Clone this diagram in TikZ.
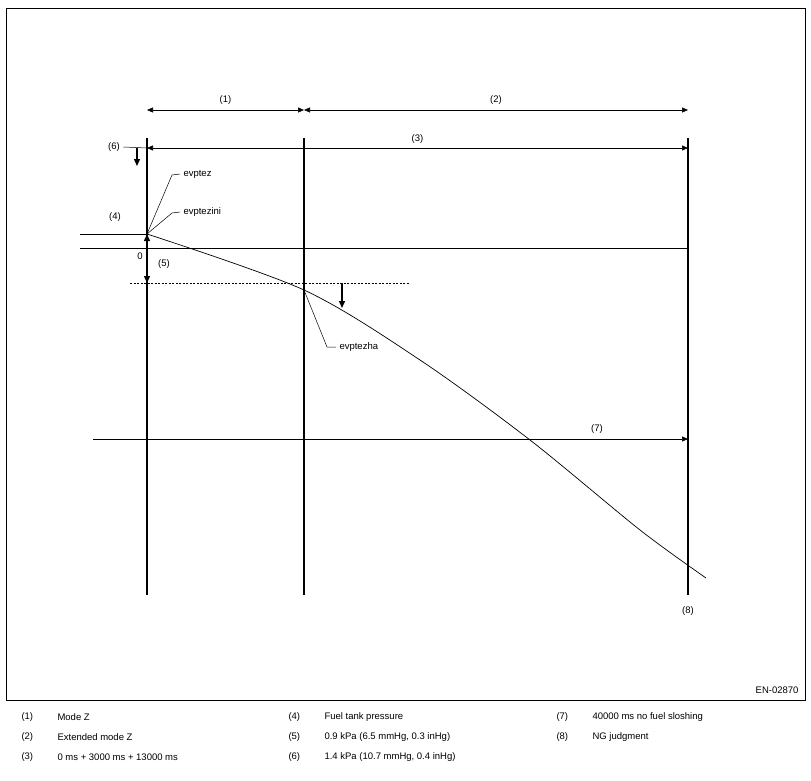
\documentclass[tikz,border=0pt]{standalone}
\usepackage{fontspec}
\setmainfont{Liberation Sans}
\usetikzlibrary{arrows.meta}
\begin{document}
\begin{tikzpicture}[x=1pt,y=-1pt,font=\fontsize{9.5}{11}\selectfont,
  bar/.style={line width=2.2pt},
  dim/.style={line width=0.6pt,{Triangle[length=6pt,width=5pt]}-{Triangle[length=6pt,width=5pt]}},
  tip/.style={line width=0.6pt,-{Triangle[length=6pt,width=5pt]}},
  down/.style={line width=1.4pt,-{Triangle[length=7pt,width=6pt]}},
  lead/.style={line width=0.5pt}]
\useasboundingbox (0,0) rectangle (811,781);
\draw[line width=0.6pt] (6,8) rectangle (805,700);
\node[anchor=east] (code) at (802,690) {EN-02870};
% vertical bars
\foreach \n/\x in {a/147,b/304,c/688}{
  \coordinate (\n top) at (\x,138);
  \coordinate (\n bot) at (\x,595);
  \draw[bar] (\n top) -- (\n bot);
}
% top arrows
\coordinate (a1) at (147,110); \coordinate (b1) at (304,110); \coordinate (c1) at (688,110);
\draw[dim] (a1) -- node[above=2pt] (l1) {(1)} (b1);
\draw[dim] (b1) -- node[above=2pt] (l2) {(2)} (c1);
\coordinate (a3) at (147,148); \coordinate (c3) at (688,148);
\draw[dim] (a3) -- node[above=1pt] (l3) {(3)} (c3);
% (6)
\node (l6) at (114,147) {(6)};
\draw[lead] (l6.east) -- (a3);
\coordinate (s6) at (137,148); \coordinate (e6) at (137,166);
\draw[down] (s6) -- (e6);
% pressure lines
\coordinate (p0) at (147,234); \coordinate (z0) at (147,248);
\coordinate (p4) at (80,234);
\draw[lead] (p4) -- (p0);
\node (l4) at (115,217) {(4)};
\draw[line width=1pt] (80,248) -- (688,248);
\draw[down] (z0) -- (p0);
\node (zero) at (140,256) {0};
\node (l5) at (164,264) {(5)};
\coordinate (p5) at (147,283);
\draw[down] (z0) -- (p5);
\draw[line width=1pt,dash pattern=on 2pt off 1.5pt] (130,283) -- (410,283);
\coordinate (s5) at (342,283); \coordinate (e5) at (342,308);
\draw[down] (s5) -- (e5);
% pressure curve
\coordinate (ha) at (304,290);
\draw[line width=0.7pt] plot[smooth,tension=0.5] coordinates
  {(147,234) (304,290) (420,360) (530,440) (640,530) (706,578)};
% leaders
\node[anchor=west] (ez) at (180,174) {evptez};
\draw[lead] (p0) -- (172,175) -- (ez.west);
\node[anchor=west] (ezi) at (180,212) {evptezini};
\draw[lead] (p0) -- (172,213) -- (ezi.west);
\node[anchor=west] (eha) at (336,347) {evptezha};
\draw[lead] (ha) -- (327,347) -- (eha.west);
% (7)
\coordinate (s7) at (93,439); \coordinate (e7) at (688,439);
\draw[tip] (s7) -- (e7);
\node (l7) at (597,429) {(7)};
\node (l8) at (688,611) {(8)};
% legend
\foreach \x/\y/\k/\t in {
  18/717/(1)/Mode Z, 18/737/(2)/Extended mode Z, 18/757/(3)/0 ms + 3000 ms + 13000 ms,
  285/717/(4)/Fuel tank pressure, 285/737/(5)/{0.9 kPa (6.5 mmHg, 0.3 inHg)}, 285/757/(6)/{1.4 kPa (10.7 mmHg, 0.4 inHg)},
  553/717/(7)/40000 ms no fuel sloshing, 553/737/(8)/NG judgment}{
  \node[anchor=west] at (\x,\y) {\k};
  \node[anchor=west] at (\x+36,\y) {\t};
}
\end{tikzpicture}
\end{document}
